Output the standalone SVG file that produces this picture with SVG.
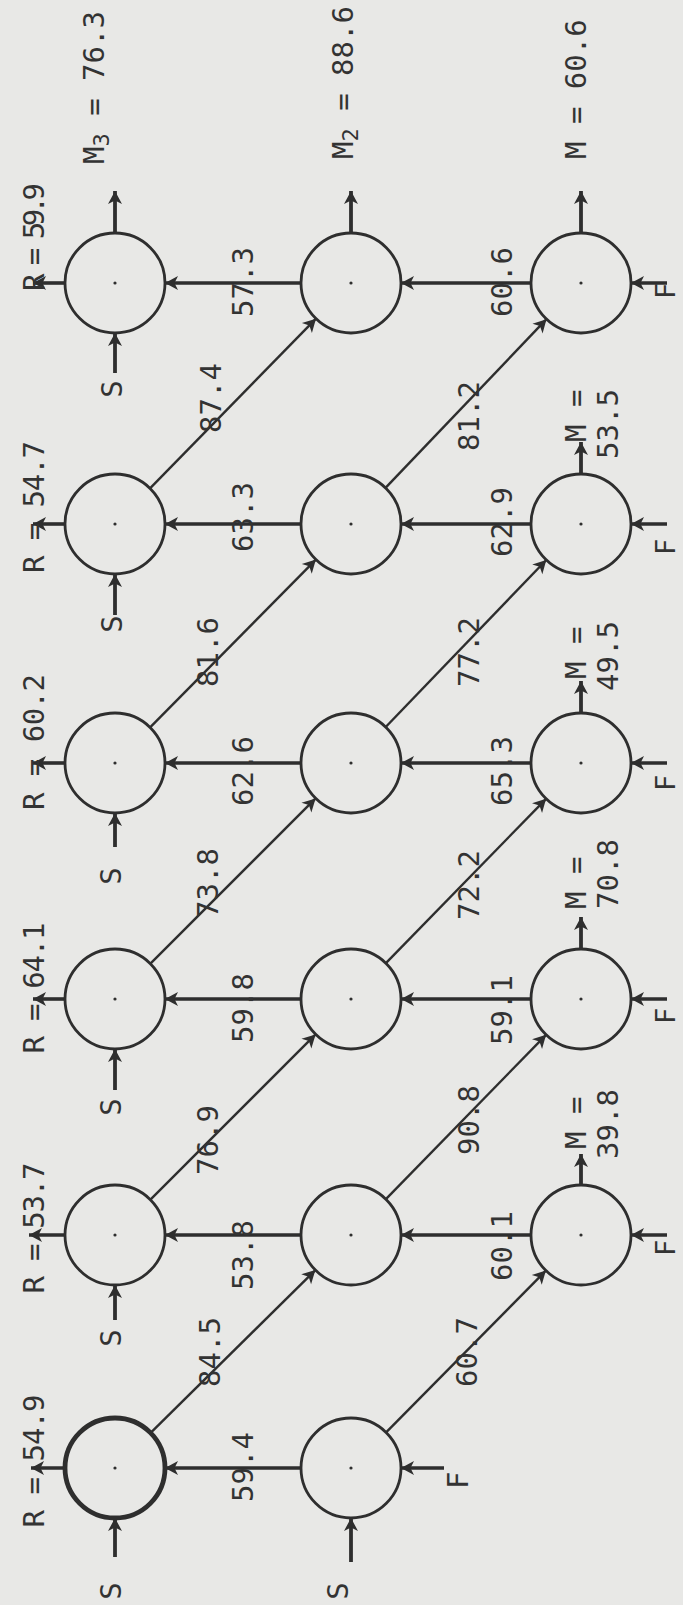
<svg xmlns="http://www.w3.org/2000/svg" width="683" height="1605" viewBox="0 0 683 1605">
<defs>
<marker id="ah" markerUnits="userSpaceOnUse" markerWidth="16" markerHeight="16" refX="14" refY="8" orient="auto">
<path d="M14,8 L1,1 L4.5,8 L1,15 Z" fill="#2e2e2e"/>
</marker>
<style>
.c{fill:none;stroke:#2e2e2e;stroke-width:2.8}
.cb{fill:none;stroke:#2e2e2e;stroke-width:4.8}
.d{fill:#2e2e2e}
.h{stroke:#2e2e2e;stroke-width:3.6;fill:none;marker-end:url(#ah)}
.g{stroke:#2e2e2e;stroke-width:2.4;fill:none;marker-end:url(#ah)}
.v{stroke:#2e2e2e;stroke-width:3.8;fill:none;marker-end:url(#ah)}
text{font-family:"DejaVu Sans Mono","Liberation Mono",monospace;font-size:29px;fill:#333}
.m{text-anchor:middle}
.f{font-size:27px}
</style>
</defs>
<rect width="683" height="1605" fill="#e8e8e6"/>

<g id="connectors">
<!-- horizontal B->A -->
<line class="h" x1="301" y1="1468" x2="165" y2="1468"/>
<line class="h" x1="301" y1="1235" x2="165" y2="1235"/>
<line class="h" x1="301" y1="999" x2="165" y2="999"/>
<line class="h" x1="301" y1="763" x2="165" y2="763"/>
<line class="h" x1="301" y1="524" x2="165" y2="524"/>
<line class="h" x1="301" y1="283" x2="165" y2="283"/>
<!-- horizontal C->B -->
<line class="h" x1="531" y1="1235" x2="401" y2="1235"/>
<line class="h" x1="531" y1="999" x2="401" y2="999"/>
<line class="h" x1="531" y1="763" x2="401" y2="763"/>
<line class="h" x1="531" y1="524" x2="401" y2="524"/>
<line class="h" x1="531" y1="283" x2="401" y2="283"/>
<!-- diagonals A->B -->
<line class="g" x1="150.6" y1="1432.9" x2="315.4" y2="1270.1"/>
<line class="g" x1="150.4" y1="1199.6" x2="315.6" y2="1034.4"/>
<line class="g" x1="150.4" y1="963.6" x2="315.6" y2="798.4"/>
<line class="g" x1="150.1" y1="727.4" x2="315.9" y2="559.6"/>
<line class="g" x1="150.0" y1="488.3" x2="316.0" y2="318.7"/>
<!-- diagonals B->C -->
<line class="g" x1="386.1" y1="1432.4" x2="545.9" y2="1270.6"/>
<line class="g" x1="385.9" y1="1199.2" x2="546.1" y2="1034.8"/>
<line class="g" x1="385.9" y1="963.2" x2="546.1" y2="798.8"/>
<line class="g" x1="385.7" y1="727.0" x2="546.3" y2="560.0"/>
<line class="g" x1="385.5" y1="487.8" x2="546.5" y2="319.2"/>
<!-- R outputs -->
<line class="h" x1="65" y1="1468" x2="31" y2="1468"/>
<line class="h" x1="65" y1="1235" x2="29" y2="1235"/>
<line class="h" x1="65" y1="999" x2="33" y2="999"/>
<line class="h" x1="65" y1="763" x2="33" y2="763"/>
<line class="h" x1="65" y1="524" x2="33" y2="524"/>
<line class="h" x1="65" y1="283" x2="33" y2="283"/>
<!-- S inputs -->
<line class="v" x1="115" y1="1557" x2="115" y2="1518"/>
<line class="v" x1="351" y1="1562" x2="351" y2="1518"/>
<line class="v" x1="115" y1="1320" x2="115" y2="1285"/>
<line class="v" x1="115" y1="1090" x2="115" y2="1049"/>
<line class="v" x1="115" y1="847" x2="115" y2="813"/>
<line class="v" x1="115" y1="615" x2="115" y2="574"/>
<line class="v" x1="115" y1="373" x2="115" y2="333"/>
<!-- F inputs -->
<line class="h" x1="444" y1="1468" x2="401" y2="1468"/>
<line class="h" x1="667" y1="1235" x2="631" y2="1235"/>
<line class="h" x1="667" y1="999" x2="631" y2="999"/>
<line class="h" x1="667" y1="763" x2="631" y2="763"/>
<line class="h" x1="667" y1="524" x2="631" y2="524"/>
<line class="h" x1="667" y1="283" x2="631" y2="283"/>
<!-- M outputs -->
<line class="v" x1="581" y1="1185" x2="581" y2="1154"/>
<line class="v" x1="581" y1="949" x2="581" y2="917"/>
<line class="v" x1="581" y1="713" x2="581" y2="681"/>
<line class="v" x1="581" y1="474" x2="581" y2="442"/>
<line class="v" x1="115" y1="233" x2="115" y2="191"/>
<line class="v" x1="351" y1="233" x2="351" y2="191"/>
<line class="v" x1="581" y1="233" x2="581" y2="191"/>

<!-- connector labels -->
<text class="m" transform="translate(253,1467) rotate(-90)">59.4</text>
<text class="m" transform="translate(253,1255) rotate(-90)">53.8</text>
<text class="m" transform="translate(512,1246) rotate(-90)">60.1</text>
<text class="m" transform="translate(253,1008) rotate(-90)">59.8</text>
<text class="m" transform="translate(512,1010) rotate(-90)">59.1</text>
<text class="m" transform="translate(253,771) rotate(-90)">62.6</text>
<text class="m" transform="translate(512,771) rotate(-90)">65.3</text>
<text class="m" transform="translate(253,517) rotate(-90)">63.3</text>
<text class="m" transform="translate(512,522) rotate(-90)">62.9</text>
<text class="m" transform="translate(253,282) rotate(-90)">57.3</text>
<text class="m" transform="translate(512,282) rotate(-90)">60.6</text>
<text class="m" transform="translate(220,1352) rotate(-90)">84.5</text>
<text class="m" transform="translate(477,1352) rotate(-90)">60.7</text>
<text class="m" transform="translate(218,1140) rotate(-90)">76.9</text>
<text class="m" transform="translate(479,1120) rotate(-90)">90.8</text>
<text class="m" transform="translate(218,883) rotate(-90)">73.8</text>
<text class="m" transform="translate(479,885) rotate(-90)">72.2</text>
<text class="m" transform="translate(218,652) rotate(-90)">81.6</text>
<text class="m" transform="translate(479,652) rotate(-90)">77.2</text>
<text class="m" transform="translate(221,398) rotate(-90)">87.4</text>
<text class="m" transform="translate(479,416) rotate(-90)">81.2</text>
</g>

<g id="labels">
<text class="m" transform="translate(43.5,1461) rotate(-90)" textLength="133" lengthAdjust="spacing">R = 54.9</text>
<text class="m" transform="translate(43.5,1228) rotate(-90)" textLength="131" lengthAdjust="spacing">R = 53.7</text>
<text class="m" transform="translate(43.5,988) rotate(-90)" textLength="131" lengthAdjust="spacing">R = 64.1</text>
<text class="m" transform="translate(43.5,742) rotate(-90)" textLength="136" lengthAdjust="spacing">R = 60.2</text>
<text class="m" transform="translate(43.5,507) rotate(-90)" textLength="132" lengthAdjust="spacing">R = 54.7</text>
<text class="m" transform="translate(43.5,237) rotate(-90)" textLength="108" lengthAdjust="spacing">R = 59.9</text>

<text class="m" transform="translate(121,1591) rotate(-90)">S</text>
<text class="m" transform="translate(348,1591) rotate(-90)">S</text>
<text class="m" transform="translate(121,1338) rotate(-90)">S</text>
<text class="m" transform="translate(121,1107) rotate(-90)">S</text>
<text class="m" transform="translate(121,876) rotate(-90)">S</text>
<text class="m" transform="translate(122,624) rotate(-90)">S</text>
<text class="m" transform="translate(122,389) rotate(-90)">S</text>

<text transform="translate(468,1489) rotate(-90)">F</text>
<text class="f" transform="translate(675,1256) rotate(-90)">F</text>
<text class="f" transform="translate(675,1024) rotate(-90)">F</text>
<text class="f" transform="translate(675,791) rotate(-90)">F</text>
<text class="f" transform="translate(675,555) rotate(-90)">F</text>
<text class="f" transform="translate(675,299) rotate(-90)">F</text>

<text transform="translate(586,1149) rotate(-90)">M =</text>
<text transform="translate(618,1159) rotate(-90)">39.8</text>
<text transform="translate(586,909) rotate(-90)">M =</text>
<text transform="translate(618,909) rotate(-90)">70.8</text>
<text transform="translate(586,679) rotate(-90)">M =</text>
<text transform="translate(618,691) rotate(-90)">49.5</text>
<text transform="translate(586,442) rotate(-90)">M =</text>
<text transform="translate(618,459) rotate(-90)">53.5</text>

<text transform="translate(104,164) rotate(-90)">M<tspan font-size="22" dy="5">3</tspan><tspan dy="-5"> = 76.3</tspan></text>
<text transform="translate(353,159) rotate(-90)">M<tspan font-size="22" dy="5">2</tspan><tspan dy="-5"> = 88.6</tspan></text>
<text transform="translate(586,159) rotate(-90)">M = 60.6</text>
</g>

<g id="node-A1"><circle class="cb" cx="115" cy="1468" r="50"/><circle class="d" cx="115" cy="1468" r="1.6"/></g>
<g id="node-B1"><circle class="c" cx="351" cy="1468" r="50"/><circle class="d" cx="351" cy="1468" r="1.6"/></g>
<g id="node-A2"><circle class="c" cx="115" cy="1235" r="50"/><circle class="d" cx="115" cy="1235" r="1.6"/></g>
<g id="node-B2"><circle class="c" cx="351" cy="1235" r="50"/><circle class="d" cx="351" cy="1235" r="1.6"/></g>
<g id="node-C2"><circle class="c" cx="581" cy="1235" r="50"/><circle class="d" cx="581" cy="1235" r="1.6"/></g>
<g id="node-A3"><circle class="c" cx="115" cy="999" r="50"/><circle class="d" cx="115" cy="999" r="1.6"/></g>
<g id="node-B3"><circle class="c" cx="351" cy="999" r="50"/><circle class="d" cx="351" cy="999" r="1.6"/></g>
<g id="node-C3"><circle class="c" cx="581" cy="999" r="50"/><circle class="d" cx="581" cy="999" r="1.6"/></g>
<g id="node-A4"><circle class="c" cx="115" cy="763" r="50"/><circle class="d" cx="115" cy="763" r="1.6"/></g>
<g id="node-B4"><circle class="c" cx="351" cy="763" r="50"/><circle class="d" cx="351" cy="763" r="1.6"/></g>
<g id="node-C4"><circle class="c" cx="581" cy="763" r="50"/><circle class="d" cx="581" cy="763" r="1.6"/></g>
<g id="node-A5"><circle class="c" cx="115" cy="524" r="50"/><circle class="d" cx="115" cy="524" r="1.6"/></g>
<g id="node-B5"><circle class="c" cx="351" cy="524" r="50"/><circle class="d" cx="351" cy="524" r="1.6"/></g>
<g id="node-C5"><circle class="c" cx="581" cy="524" r="50"/><circle class="d" cx="581" cy="524" r="1.6"/></g>
<g id="node-A6"><circle class="c" cx="115" cy="283" r="50"/><circle class="d" cx="115" cy="283" r="1.6"/></g>
<g id="node-B6"><circle class="c" cx="351" cy="283" r="50"/><circle class="d" cx="351" cy="283" r="1.6"/></g>
<g id="node-C6"><circle class="c" cx="581" cy="283" r="50"/><circle class="d" cx="581" cy="283" r="1.6"/></g>
</svg>
